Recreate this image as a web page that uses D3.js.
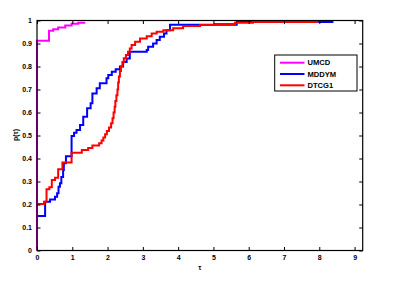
<!DOCTYPE html>
<html>
<head>
<meta charset="utf-8">
<script src="https://cdn.jsdelivr.net/npm/d3@7"></script>
<style>
  html, body { margin: 0; padding: 0; background: #fff; }
  svg { display: block; font-family: "Liberation Sans", Arial, Helvetica, sans-serif; }
</style>
</head>
<body>
<svg id="chart" width="394" height="285"></svg>
<script>
// ---- data ----
const seriesNames = ["UMCD", "MDDYM", "DTCG1"];
const seriesColors = ["#ff00ff", "#0000ff", "#ff0000"];

const umcdTau = [0, 0, 0.34, 0.46, 0.60, 0.80, 0.98, 1.17, 1.34];
const umcdP   = [0, 0.912, 0.955, 0.962, 0.970, 0.978, 0.986, 0.990, 0.993];

const mddymTau = [0, 0.23, 0.37, 0.51, 0.57, 0.61, 0.65, 0.69, 0.74, 0.76, 0.82, 0.98, 1.05, 1.12,
                  1.22, 1.31, 1.42, 1.52, 1.57, 1.69, 1.78, 1.97, 2.02, 2.12, 2.23, 2.35, 2.44, 2.54,
                  2.63, 3.11, 3.15, 3.29, 3.39, 3.48, 3.60, 3.67, 3.77, 5.66, 8.40];
const mddymP   = [0.150, 0.212, 0.222, 0.234, 0.249, 0.277, 0.292, 0.320, 0.350, 0.379, 0.410, 0.498, 0.512, 0.524,
                  0.546, 0.582, 0.618, 0.640, 0.683, 0.705, 0.727, 0.749, 0.763, 0.777, 0.788, 0.800, 0.820, 0.835,
                  0.864, 0.872, 0.886, 0.900, 0.915, 0.929, 0.944, 0.958, 0.982, 0.993, 0.993];

const dtcgTau = [0, 0.20, 0.27, 0.35, 0.42, 0.51, 0.60, 0.72, 0.98, 1.27, 1.45, 1.57, 1.76, 1.83,
                 1.88, 1.93, 1.98, 2.04, 2.10, 2.14, 2.17, 2.20, 2.22, 2.25, 2.28, 2.30, 2.32, 2.35,
                 2.38, 2.42, 2.46, 2.52, 2.58, 2.63, 2.68, 2.78, 2.92, 3.11, 3.25, 3.39, 3.58, 3.86,
                 4.14, 4.62, 5.04, 5.61, 6.12, 7.97];
const dtcgP   = [0.202, 0.212, 0.266, 0.275, 0.307, 0.316, 0.353, 0.383, 0.425, 0.437, 0.446, 0.457, 0.466, 0.478,
                 0.491, 0.505, 0.520, 0.535, 0.553, 0.575, 0.600, 0.625, 0.650, 0.675, 0.700, 0.730, 0.756, 0.780,
                 0.800, 0.820, 0.836, 0.850, 0.864, 0.878, 0.893, 0.908, 0.922, 0.932, 0.944, 0.951, 0.958, 0.966,
                 0.976, 0.980, 0.985, 0.990, 0.993, 0.993];

const xTicks = [0, 1, 2, 3, 4, 5, 6, 7, 8, 9];
const xTickLabels = ["0", "1", "2", "3", "4", "5", "6", "7", "8", "9"];
const yTicks = [0, 0.1, 0.2, 0.3, 0.4, 0.5, 0.6, 0.7, 0.8, 0.9, 1];
const yTickLabels = ["0", "0.1", "0.2", "0.3", "0.4", "0.5", "0.6", "0.7", "0.8", "0.9", "1"];
const xLabel = "τ";
const yLabel = "p(τ)";

// ---- layout ----
const svg = d3.select("#chart");
const L = 37, R = 362.7, T = 20.5, B = 250.5;
const x = d3.scaleLinear().domain([0, 9.23]).range([L, R]);
const y = d3.scaleLinear().domain([0, 1]).range([B, T]);

const series = [
  { tau: umcdTau, p: umcdP },
  { tau: mddymTau, p: mddymP },
  { tau: dtcgTau, p: dtcgP }
];

const line = d3.line().x(d => x(d[0])).y(d => y(d[1])).curve(d3.curveStepAfter);

const plot = svg.append("g");
// draw blue and red first, magenta on top so its vertical at τ=0 stays visible
[1, 2, 0].forEach((i) => {
  const s = series[i];
  const pts = s.tau.map((t, k) => [t, s.p[k]]);
  plot.append("path")
    .attr("d", line(pts))
    .attr("fill", "none")
    .attr("stroke", seriesColors[i])
    .attr("stroke-width", 2)
    .attr("stroke-linejoin", "miter");
});

// ---- axes ----
const tickLen = 3.5;
const fmtX = (d) => xTickLabels[xTicks.indexOf(d)];
const fmtY = (d) => yTickLabels[yTicks.indexOf(d)];

function styleAxis(g) {
  g.select(".domain").remove();
  g.selectAll("line").attr("stroke", "#000").attr("stroke-width", 1);
  g.selectAll("text").attr("fill", "#000").attr("font-size", "7px").attr("font-weight", "bold");
}

svg.append("g").attr("transform", `translate(0,${B})`)
  .call(d3.axisBottom(x).tickValues(xTicks).tickFormat(fmtX).tickSizeInner(-tickLen).tickSizeOuter(0).tickPadding(5))
  .call(styleAxis);
svg.append("g").attr("transform", `translate(0,${T})`)
  .call(d3.axisTop(x).tickValues(xTicks).tickFormat("").tickSizeInner(-tickLen).tickSizeOuter(0))
  .call(styleAxis);
svg.append("g").attr("transform", `translate(${L},0)`)
  .call(d3.axisLeft(y).tickValues(yTicks).tickFormat(fmtY).tickSizeInner(-tickLen).tickSizeOuter(0).tickPadding(5))
  .call(styleAxis);
svg.append("g").attr("transform", `translate(${R},0)`)
  .call(d3.axisRight(y).tickValues(yTicks).tickFormat("").tickSizeInner(-tickLen).tickSizeOuter(0))
  .call(styleAxis);

svg.append("rect")
  .attr("x", L).attr("y", T).attr("width", R - L).attr("height", B - T)
  .attr("fill", "none").attr("stroke", "#000").attr("stroke-width", 1.2);

// axis labels
svg.append("text").attr("x", (L + R) / 2).attr("y", 270)
  .attr("text-anchor", "middle").attr("font-size", "7px").attr("font-weight", "bold").text(xLabel);
svg.append("text").attr("transform", `translate(18,135) rotate(-90)`)
  .attr("text-anchor", "middle").attr("font-size", "7px").attr("font-weight", "bold").text(yLabel);

// ---- legend ----
const lg = svg.append("g");
lg.append("rect").attr("x", 274.7).attr("y", 55).attr("width", 82.3).attr("height", 36)
  .attr("fill", "#fff").attr("stroke", "#000").attr("stroke-width", 1);
const rowY = [62.7, 74, 85.3];
seriesNames.forEach((n, i) => {
  lg.append("line").attr("x1", 280).attr("x2", 304.5).attr("y1", rowY[i]).attr("y2", rowY[i])
    .attr("stroke", seriesColors[i]).attr("stroke-width", 2);
  lg.append("text").attr("x", 307.5).attr("y", rowY[i]).attr("dy", "0.35em")
    .attr("font-size", "7.6px").attr("font-weight", "bold").attr("fill", "#000").text(n);
});
</script>
</body>
</html>
